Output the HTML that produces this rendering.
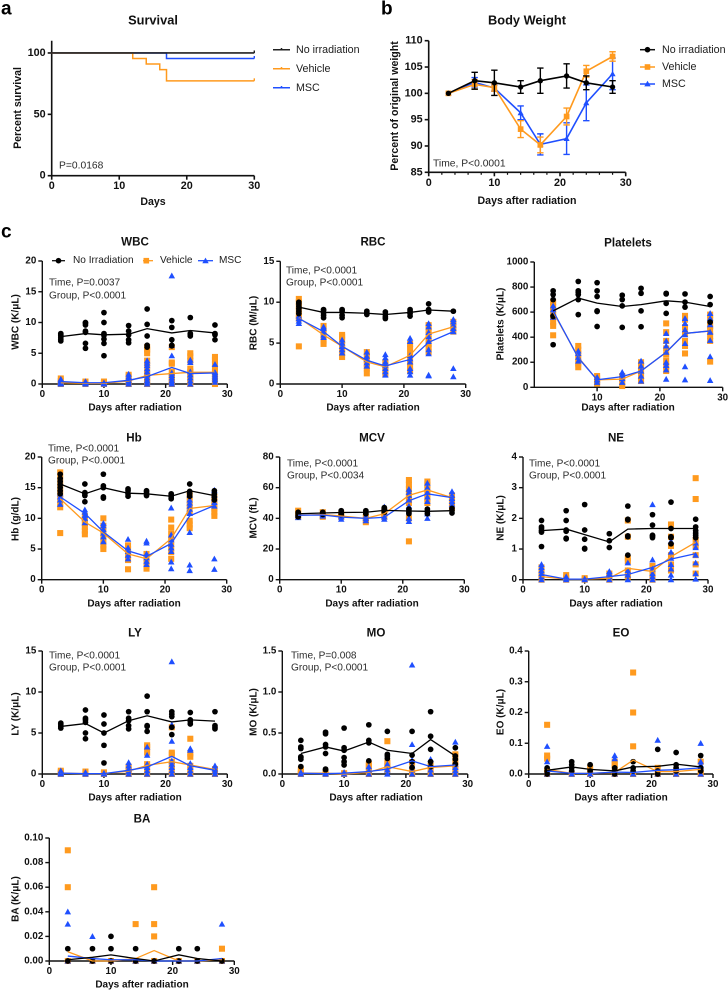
<!DOCTYPE html>
<html lang="en">
<head>
<meta charset="utf-8">
<title>Survival, body weight and blood counts after radiation</title>
<style>
html,body{margin:0;padding:0;background:#fff;width:728px;height:991px;overflow:hidden}
svg{display:block;filter:blur(0.2px)}
text{font-family:"Liberation Sans",sans-serif;fill:#111;dominant-baseline:central}
.title{font-weight:bold;font-size:11.6px;text-anchor:middle}
.title-lg{font-weight:bold;font-size:12.8px;text-anchor:middle}
.axis-title{font-weight:bold;font-size:10px;text-anchor:middle}
.axis-title-lg{font-weight:bold;font-size:10.6px;text-anchor:middle}
.note{font-size:10.1px;fill:#2b2b2b}
.legend{font-size:10.7px;fill:#1c1c1c}
.legend-sm{font-size:10.1px;fill:#1c1c1c}
.letter{font-weight:bold;font-size:19px;fill:#000}
.tick-label{font-weight:bold;font-size:9.8px}
.tick-label-lg{font-weight:bold;font-size:10.8px}
</style>
</head>
<body>
<svg id="figure" xmlns="http://www.w3.org/2000/svg" width="728" height="991" viewBox="0 0 728 991">
  <rect width="728" height="991" fill="#fff"/>

  <text class="letter" x="1" y="9">a</text>
  <text class="letter" x="381" y="9">b</text>
  <text class="letter" x="1" y="232">c</text>

  <text class="title-lg" x="153" y="20">Survival</text>
  <text class="axis-title-lg" x="153" y="202">Days</text>
  <text class="axis-title-lg" transform="translate(18 108) rotate(-90)">Percent survival</text>
  <text class="note" style="font-size:10.3px" x="59" y="166">P=0.0168</text>

  <g>
    <path d="M273 49.7H290M281.5 48V49.7" stroke="#222" stroke-width="1.5" fill="none"/>
    <text class="legend" x="296" y="50">No irradiation</text>
    <path d="M273 68.7H290M281.5 67V68.7" stroke="#ff9a1e" stroke-width="1.5" fill="none"/>
    <text class="legend" x="296" y="69">Vehicle</text>
    <path d="M273 87.7H290M281.5 86V87.7" stroke="#1f4fff" stroke-width="1.5" fill="none"/>
    <text class="legend" x="296" y="88">MSC</text>
  </g>

  <text class="title-lg" x="527" y="20">Body Weight</text>
  <text class="axis-title-lg" x="527" y="201">Days after radiation</text>
  <text class="axis-title-lg" transform="translate(395 106) rotate(-90)">Percent of original weight</text>
  <text class="note" style="font-size:10.3px" x="433" y="164">Time, P&lt;0.0001</text>

  <g>
    <line x1="640" x2="655" y1="49.7" y2="49.7" stroke="#111" stroke-width="1.5"/>
    <circle cx="647.5" cy="49.7" r="2.8" fill="#000"/>
    <text class="legend" x="662" y="50">No irradiation</text>
    <line x1="640" x2="655" y1="67" y2="67" stroke="#ff9a1e" stroke-width="1.5"/>
    <rect x="644.7" y="64.2" width="5.6" height="5.6" fill="#ff9a1e"/>
    <text class="legend" x="662" y="67">Vehicle</text>
    <line x1="640" x2="655" y1="84" y2="84" stroke="#1f4fff" stroke-width="1.5"/>
    <path d="M647.5 80.8l3.2 5.6h-6.4z" fill="#1f4fff"/>
    <text class="legend" x="662" y="84">MSC</text>
  </g>

  <g>
    <line x1="52" x2="65" y1="260.7" y2="260.7" stroke="#111" stroke-width="1.3"/>
    <circle cx="58.5" cy="260.7" r="2.8" fill="#000"/>
    <text class="legend-sm" x="73" y="260.7">No Irradiation</text>
    <line x1="143" x2="153" y1="260.7" y2="260.7" stroke="#ff9a1e" stroke-width="1.3"/>
    <rect x="143.5" y="257.9" width="5.6" height="5.6" fill="#ff9a1e"/>
    <text class="legend-sm" x="160" y="260.7">Vehicle</text>
    <line x1="198" x2="213" y1="260.7" y2="260.7" stroke="#1f4fff" stroke-width="1.3"/>
    <path d="M205.5 257.6l3.2 5.6h-6.4z" fill="#1f4fff"/>
    <text class="legend-sm" x="219" y="260.7">MSC</text>
  </g>

  <text class="title" x="135" y="242">WBC</text>
  <text class="axis-title" x="135" y="408">Days after radiation</text>
  <text class="axis-title" transform="translate(16 322) rotate(-90)">WBC (K/μL)</text>
  <text class="note" x="49" y="283">Time, P=0.0037</text>
  <text class="note" x="49" y="296">Group, P&lt;0.0001</text>

  <text class="title" x="373" y="242">RBC</text>
  <text class="axis-title" x="373" y="408">Days after radiation</text>
  <text class="axis-title" transform="translate(254 323) rotate(-90)">RBC (M/μL)</text>
  <text class="note" x="286" y="271">Time, P&lt;0.0001</text>
  <text class="note" x="286" y="283">Group, P&lt;0.0001</text>

  <text class="title" x="628" y="243">Platelets</text>
  <text class="axis-title" x="628" y="408">Days after radiation</text>
  <text class="axis-title" transform="translate(501 324) rotate(-90)">Platelets (K/μL)</text>

  <text class="title" x="134" y="438">Hb</text>
  <text class="axis-title" x="134" y="604">Days after radiation</text>
  <text class="axis-title" transform="translate(16 519) rotate(-90)">Hb (g/dL)</text>
  <text class="note" x="48" y="449">Time, P&lt;0.0001</text>
  <text class="note" x="48" y="461">Group, P&lt;0.0001</text>

  <text class="title" x="372" y="438">MCV</text>
  <text class="axis-title" x="372" y="604">Days after radiation</text>
  <text class="axis-title" transform="translate(254 518) rotate(-90)">MCV (fL)</text>
  <text class="note" x="287" y="464">Time, P&lt;0.0001</text>
  <text class="note" x="287" y="476">Group, P&lt;0.0034</text>

  <text class="title" x="616" y="438">NE</text>
  <text class="axis-title" x="616" y="604">Days after radiation</text>
  <text class="axis-title" transform="translate(501 518) rotate(-90)">NE (K/μL)</text>
  <text class="note" x="529" y="464">Time, P&lt;0.0001</text>
  <text class="note" x="529" y="476">Group, P&lt;0.0001</text>

  <text class="title" x="135" y="633">LY</text>
  <text class="axis-title" x="135" y="798">Days after radiation</text>
  <text class="axis-title" transform="translate(16 714) rotate(-90)">LY (K/μL)</text>
  <text class="note" x="49" y="656">Time, P&lt;0.0001</text>
  <text class="note" x="49" y="668">Group, P&lt;0.0001</text>

  <text class="title" x="376" y="633">MO</text>
  <text class="axis-title" x="376" y="798">Days after radiation</text>
  <text class="axis-title" transform="translate(254 712) rotate(-90)">MO (K/μL)</text>
  <text class="note" x="291" y="656">Time, P=0.008</text>
  <text class="note" x="291" y="668">Group, P&lt;0.0001</text>

  <text class="title" x="621" y="633">EO</text>
  <text class="axis-title" x="621" y="798">Days after radiation</text>
  <text class="axis-title" transform="translate(501 712) rotate(-90)">EO (K/μL)</text>

  <text class="title" x="142" y="819">BA</text>
  <text class="axis-title" x="142" y="985">Days after radiation</text>
  <text class="axis-title" transform="translate(16 899) rotate(-90)">BA (K/μL)</text>
</svg>

<script>
// ---------- shared values ----------
const days = [3, 7, 10, 14, 17, 21, 24, 28];
const xTicks = [0, 10, 20, 30];
const plateletXTicks = [10, 20, 30];

// ---------- survival ----------
const survivalYTicks = [0, 50, 100];
const survivalNoIrrDays = [0, 30];
const survivalNoIrrPct = [100, 100];
const survivalVehicleDays = [0, 12, 14, 16, 17, 30];
const survivalVehiclePct = [100, 95.5, 91, 86.4, 77.3, 77.3];
const survivalMscDays = [0, 17, 30];
const survivalMscPct = [100, 95.5, 95.5];

// ---------- body weight ----------
const weightYTicks = [85, 90, 95, 100, 105, 110];
const weightNoIrr = [100, 102.4, 102, 101.2, 102.4, 103.3, 102, 101.2];
const weightNoIrrErr = [0, 1.6, 2.4, 1.2, 2.4, 2.3, 1.3, 1.2];
const weightVehicle = [100, 101.7, 101.1, 93.2, 90.2, 95.6, 104.2, 107];
const weightVehicleErr = [0, 0.9, 0.7, 1.6, 1.5, 1.6, 1.1, 0.9];
const weightMsc = [100, 102.1, 101, 96.3, 90.3, 91.4, 98.2, 103.7];
const weightMscErr = [0, 0.9, 0.6, 1.3, 2, 3, 3.4, 3];

// ---------- WBC ----------
const wbcYTicks = [0, 5, 10, 15, 20];
const wbcNoIrrMean = [7.7, 8.2, 8, 8.1, 9, 8.3, 8.7, 8.3];
const wbcVehicleMean = [0.2, 0.1, 0.1, 0.5, 1.4, 1.7, 1.9, 1.9];
const wbcMscMean = [0.4, 0.2, 0.2, 0.6, 1.2, 2.7, 1.7, 1.8];
const wbcNoIrr = [[7,7.3,7.6,7.9,8.2,8],[5.8,6.6,8.4,8.6,9.6,9.9,10],[4.6,6.6,7.3,7.9,8.2,10,11.6],[6.7,7.2,8,8.6,9.5],[6,6.3,7.8,9.7,12.2],[6.2,6.3,7.2,9.2,10.3],[7.8,8,8.2,10.8],[7.2,8,8.2,9.6]];
const wbcVehicle = [[0,0.2,0.5,0.9],[0,0.1,0.3,0.4],[0,0.1,0.2,0.4],[0,0.3,0.6,1.2,1.5],[0,0.5,1,1.5,2,3,3.8,5,5.6,6],[0,0.5,1,1.5,2,3.3,3.5,6],[0,0.5,1,1.5,2,2.5,3.8,4.5,5],[0,0.5,1,1.5,2,2.5,3.3,3.9,4.4]];
const wbcMsc = [[0,0.1,0.2,0.4,0.6,0.8],[0,0.1,0.2,0.3,0.4],[0,0.1,0.2],[0,0.3,0.6,0.9,1.2,1.6],[0,0.3,0.6,1,1.5,2,2.5,3,3.4,3.8],[0,0.3,0.6,1,1.4,1.8,4.6,6.3,17.6],[0,0.5,1,1.5,2,3.5,3.9],[0.3,0.7,1,1.3,1.6,1.9,3.2]];

// ---------- RBC ----------
const rbcYTicks = [0, 5, 10, 15];
const rbcNoIrrMean = [9.4, 8.75, 8.75, 8.65, 8.5, 8.75, 9.05, 8.9];
const rbcVehicleMean = [8.1, 6, 4.6, 2.7, 2.1, 3.5, 6.1, 7];
const rbcMscMean = [8, 6.4, 4.6, 2.9, 2.2, 3, 5.1, 6.4];
const rbcNoIrr = [[8.6,8.9,9.2,9.5,9.8,10],[8.1,8.4,8.7,9,9.1],[8.1,8.4,8.8,9,9.1],[8.5,8.7,8.9],[8,8.2,8.5,8.8],[8.3,8.6,8.9,9.1],[8.8,9,9.1,9.8],[8.9]];
const rbcVehicle = [[4.6,8,8.4,9,9.5,10,10.4],[4.9,5.3,5.8,6.2,6.7,7.1],[3.3,3.8,4.3,4.8,5.3,5.8,6],[1.3,1.9,2.4,2.9,3.4,3.9],[1.2,1.6,2,2.4,2.7],[1.6,2.1,2.8,3.6,4.3,4.9],[3.9,4.4,4.9,5.5,6,6.5,7,7.2],[6.4,6.8,7.2,7.6]];
const rbcMsc = [[7.4,7.7,8,8.3],[5.7,6,6.4,6.8,7],[3.8,4.2,4.6,5,5.4],[2.2,2.6,3,3.4,3.9],[1.1,1.5,1.9,2.3,2.7,3.2,3.6],[1.1,1.5,1.9,2.7,3.1,3.5,5.2,5.6],[1,1.1,3.7,4.2,5.2,5.8,6.3,7,7.4],[0.9,1.9,6.4,6.8,7.2,7.6,7.9]];

// ---------- Platelets ----------
const pltYTicks = [0, 200, 400, 600, 800, 1000];
const pltNoIrrMean = [610, 712, 672, 645, 660, 690, 680, 645];
const pltVehicleMean = [600, 240, 60, 65, 130, 280, 430, 450];
const pltMscMean = [610, 235, 60, 85, 130, 280, 430, 450];
const pltNoIrr = [[340,565,570,700,740,770],[580,700,740,760,770,845],[485,605,610,725,770,835],[478,650,700,735],[483,610,750,790],[590,670,745,750],[640,680,745],[520,660,725]];
const pltVehicle = [[415,490,520,560,600,640,680],[160,190,230,270,300,330],[30,50,70,90],[10,40,70,90],[50,90,130,170,200],[130,170,210,260,310,370,440,510],[270,330,370,430,480,540,570],[205,370,410,450,490,540,580]];
const pltMsc = [[560,590,620,650],[210,240,270,290],[40,60,80],[40,70,100,120],[50,90,130,170,210],[65,140,175,200,280,330,370,430],[60,165,350,420,460,510,550],[55,245,375,440,500,550,590]];

// ---------- Hb ----------
const hbYTicks = [0, 5, 10, 15, 20];
const hbNoIrrMean = [15.6, 14, 15, 14.1, 14, 13.6, 14.5, 13.7];
const hbVehicleMean = [13.2, 9.4, 7.6, 4.2, 3.4, 6.7, 11.6, 12.1];
const hbMscMean = [13.5, 10.8, 7.8, 4.7, 3.8, 5.9, 10.4, 12.1];
const hbNoIrr = [[14,14.5,15,15.5,16,16.5,17.2],[12.7,13.7,14,14.2,15.6],[13.3,13.5,15,15.3,17.2],[13.6,14,14.5,14.8],[13.7,14,14.3,14.5],[13.2,13.5,13.8,14],[13.6,14,14.4,15.6],[13,13.5,14,14.5]];
const hbVehicle = [[7.6,11.8,12.5,13.5,14.5,15.5,16.5,17.5],[7.4,8,8.6,9.2,9.8,10.4],[5,5.6,6.4,7.2,8,8.8,10],[1.7,3.2,3.8,4.4,5,5.6],[1.8,2.4,3,3.6,4.2],[3.4,4.5,5.5,6.5,7.5,8.5,9.8],[8.4,9,9.6,11,12,13,14],[10.4,11,11.6,12.2,12.8,13.5]];
const hbMsc = [[12.3,13,13.5,14],[9.3,10,10.5,11,11.4],[6.2,7,7.6,8.2,8.8,9.2],[3.4,4,4.6,5.2,6.6],[2.5,3,3.6,4.2,6,6.3],[1.8,2.9,4.6,5.2,5.8,6.5,7.3,11.7],[1.5,2.4,7.7,10.8,11.5,12,12.5,13,13.8],[1.7,3.4,12,12.6,13.2,13.8,14.6]];

// ---------- MCV ----------
const mcvYTicks = [0, 20, 40, 60, 80];
const mcvNoIrrMean = [43, 43.5, 43.8, 44, 45.2, 44.8, 44.6, 45];
const mcvVehicleMean = [42, 42.5, 41.5, 40, 43, 55, 58.5, 53.5];
const mcvMscMean = [42, 42.2, 40.8, 40, 40.7, 51.5, 56, 53.5];
const mcvNoIrr = [[41,42,43,44],[42.5,43,44],[42,43,44,45],[43,44,45],[44,45,46,47],[43,44,45,46],[43,44.5,46],[43.5,45,46.5]];
const mcvVehicle = [[41,43,45],[41,42,44],[41,42,43],[37.5,39,41],[41,43,45],[25,40,50,53,56,59,62,65],[50,53,56,59,62,64],[47,50,52,54,55]];
const mcvMsc = [[40.5,42,43],[41.5,42.5],[39.5,41,42.5],[38.5,40,41.5],[39.5,41,44,47.5],[38,40,48,52,55,57,59],[40,43,46,51,54,57,60,63],[49,51,53,55,57.5]];

// ---------- NE ----------
const neYTicks = [0, 1, 2, 3, 4];
const neNoIrrMean = [1.6, 1.65, 1.47, 1.23, 1.65, 1.67, 1.67, 1.67];
const neVehicleMean = [0.1, 0.02, 0.02, 0.05, 0.37, 0.27, 0.75, 1.22];
const neMscMean = [0.17, 0.02, 0.02, 0.1, 0.17, 0.4, 0.67, 0.85];
const neNoIrr = [[1.08,1.55,1.6,1.67,1.72,1.93],[1.33,1.35,1.58,1.62,1.93,2.25],[1,1.02,1.32,1.62,2.45],[1.05,1.27,1.5],[0.8,1.4,1.43,1.95,1.97,2.4],[1.37,1.42,1.45,1.78,2.12],[1.17,1.37,1.4,1.67,2.53],[1.37,1.45,1.52,1.6,1.72,1.97]];
const neVehicle = [[0,0.1,0.2,0.3,0.4],[0,0.05,0.15],[0,0.05],[0,0.1,0.2],[0.1,0.3,0.6,0.7,1.4,1.93],[0,0.1,0.3,0.45],[0.3,0.5,0.8,1.1,1.4,1.8],[0.2,0.5,0.8,1.1,1.3,2.63,3.31]];
const neMsc = [[0,0.1,0.2,0.3,0.4,0.5],[0,0.05,0.1],[0,0.03],[0,0.1,0.2,0.27],[0,0.15,0.3,0.55],[0,0.1,0.2,0.35,0.65,2.45],[0,0.15,0.35,0.5,0.7,0.9,1.25],[0.02,0.2,0.55,0.8,1.05,1.2]];

// ---------- LY ----------
const lyYTicks = [0, 5, 10, 15];
const lyNoIrrMean = [5.8, 6.15, 5, 6.5, 7.1, 6.35, 6.6, 6.45];
const lyVehicleMean = [0.1, 0.05, 0.05, 0.35, 1.05, 1.5, 1.1, 0.55];
const lyMscMean = [0.1, 0.05, 0.05, 0.45, 0.85, 2.15, 1, 0.45];
const lyNoIrr = [[5.6,5.8,6,6.2],[4.3,5,6.3,6.6,6.8,7.8],[1.35,3.5,5,6.1,7.2],[5.5,5.9,6.5,6.8,7.6],[5.2,5.8,5.9,7.6,9.5],[4.8,5.7,7,7.3,7.6],[6.1,6.4,6.6,7.5],[5.5,5.7,5.9,7.6]];
const lyVehicle = [[0,0.2,0.4],[0,0.15,0.3],[0,0.1,0.2],[0,0.3,0.6,0.9],[0,0.6,1.2,2.6,3.3,3.5],[0,0.5,1,1.5,2.4,2.6,5.7],[0,0.5,1,2.1,2.5,4.3],[0,0.3,0.6]];
const lyMsc = [[0,0.1,0.2,0.4],[0,0.1,0.2],[0,0.1],[0,0.3,0.6,1,1.4],[0,0.4,0.8,1.2,2.3,3.3],[0,0.4,0.8,1.2,1.6,4,6,13.7],[0,0.4,0.8,1.3,2.9,3.1],[0,0.3,0.6,1]];

// ---------- MO ----------
const moYTicks = [0, 0.5, 1, 1.5];
const moNoIrrMean = [0.25, 0.33, 0.28, 0.39, 0.29, 0.25, 0.42, 0.22];
const moVehicleMean = [0.01, 0.01, 0, 0.02, 0.09, 0.03, 0.08, 0.1];
const moMscMean = [0.01, 0.005, 0.01, 0.03, 0.06, 0.16, 0.09, 0.11];
const moNoIrr = [[0.09,0.18,0.2,0.21,0.31,0.33,0.41],[0.05,0.06,0.25,0.33,0.36,0.49,0.51],[0.11,0.15,0.2,0.29,0.32,0.56],[0.16,0.38,0.41,0.6],[0.19,0.22,0.24,0.52],[0.08,0.15,0.23,0.52],[0.09,0.15,0.3,0.46,0.76],[0.12,0.18,0.22,0.32]];
const moVehicle = [[0,0.02,0.05],[0,0.01],[0,0.01],[0,0.05,0.1,0.12],[0.05,0.1,0.14,0.4],[0,0.03,0.14],[0,0.05,0.1],[0,0.05,0.1,0.15,0.22,0.24]];
const moMsc = [[0,0.02],[0,0.01],[0,0.02],[0,0.04,0.09],[0,0.05,0.12],[0,0.05,0.1,0.17,0.36,1.33],[0,0.05,0.1,0.18],[0,0.04,0.08,0.12,0.39]];

// ---------- EO ----------
const eoYTicks = [0, 0.1, 0.2, 0.3, 0.4];
const eoNoIrrMean = [0.012, 0.023, 0.015, 0.01, 0.023, 0.025, 0.032, 0.023];
const eoVehicleMean = [0.015, 0.002, 0.002, 0.005, 0.045, 0.008, 0.008, 0.015];
const eoMscMean = [0.01, 0.002, 0.002, 0.006, 0.005, 0.012, 0.014, 0.02];
const eoNoIrr = [[0,0.01,0.02],[0.01,0.02,0.03,0.04],[0.01,0.03],[0,0.01,0.02],[0.01,0.02,0.04],[0,0.01,0.08],[0.01,0.02,0.03,0.07],[0.01,0.02,0.06]];
const eoVehicle = [[0,0.01,0.05,0.06,0.16],[0],[0,0.02],[0,0.02,0.03,0.04],[0,0.09,0.2,0.33],[0,0.02],[0,0.01],[0,0.01,0.04]];
const eoMsc = [[0,0.01,0.04,0.09],[0],[0],[0,0.05,0.06],[0],[0,0.11],[0,0.01],[0,0.02,0.03,0.04,0.1]];

// ---------- BA ----------
const baYTicks = [0, 0.02, 0.04, 0.06, 0.08, 0.1];
const baNoIrrMean = [0.001, 0.003, 0.005, 0.002, 0, 0.005, 0.002, 0];
const baVehicleMean = [0.0075, 0, 0, 0.002, 0.0085, 0, 0, 0.001];
const baMscMean = [0.004, 0.002, 0.001, 0.001, 0, 0, 0, 0.002];
const baNoIrr = [[0,0.01],[0,0.01],[0,0.01,0.02],[0,0.01],[0],[0,0.01],[0,0.01],[0]];
const baVehicle = [[0,0.06,0.09],[0],[0],[0,0.03],[0,0.02,0.03,0.06],[0],[0],[0,0.01]];
const baMsc = [[0,0.03,0.04],[0,0.02],[0],[0],[0],[0],[0],[0,0.03]];

// ---------- drawing ----------
const NS = 'http://www.w3.org/2000/svg';
const svg = document.getElementById('figure');
const COLORS = { noIrr: '#000000', vehicle: '#ff9a1e', msc: '#1f4fff' };

function shape(tag, attrs, parent) {
  const el = document.createElementNS(NS, tag);
  for (const k in attrs) el.setAttribute(k, attrs[k]);
  parent.appendChild(el);
  return el;
}
function scales(f) {
  return {
    x: v => f.left + (v / f.xMax) * (f.right - f.left),
    y: v => f.bottom - ((v - f.yMin) / (f.yMax - f.yMin)) * (f.bottom - f.top)
  };
}
function fmt(v, digits) { return digits ? v.toFixed(digits) : String(v); }

function drawAxes(name, f, xt, yt, digits, lg) {
  const s = scales(f);
  const g = shape('g', {}, svg);
  
  
  const sw = lg ? 1.6 : 1.4;
  const axisY = shape('line', { x1: f.left, x2: f.left, y1: f.bottom + sw / 2, y2: f.top, stroke: '#111', 'stroke-width': sw }, g);
  
  
  const axisX = shape('line', { x1: f.left, x2: f.right, y1: f.bottom, y2: f.bottom, stroke: '#111', 'stroke-width': sw }, g);
  
  
  yt.forEach(v => {
    const tick = shape('line', { x1: f.left - 4, x2: f.left, y1: s.y(v), y2: s.y(v), stroke: '#111', 'stroke-width': sw }, g);
    
    
    const label = shape('text', { x: f.left - 6, y: s.y(v), 'text-anchor': 'end', class: lg ? 'tick-label-lg' : 'tick-label' }, g);
    label.textContent = fmt(v, digits);
    
    
  });
  xt.forEach(v => {
    const tick = shape('line', { x1: s.x(v), x2: s.x(v), y1: f.bottom, y2: f.bottom + 4, stroke: '#111', 'stroke-width': sw }, g);
    
    
    const label = shape('text', { x: s.x(v), y: f.bottom + 10.5, 'text-anchor': 'middle', class: lg ? 'tick-label-lg' : 'tick-label' }, g);
    label.textContent = String(v);
    
    
  });
  return s;
}

function drawMarker(kind, px, py, parent, size) {
  const k = size || 1;
  let el;
  if (kind === 'noIrr') {
    el = shape('circle', { cx: px, cy: py, r: 2.55 * k, fill: COLORS.noIrr }, parent);
  } else if (kind === 'vehicle') {
    el = shape('rect', { x: px - 2.7 * k, y: py - 2.7 * k, width: 5.4 * k, height: 5.4 * k, fill: COLORS.vehicle }, parent);
  } else {
    el = shape('path', { d: 'M' + px + ' ' + (py - 2.9 * k) + 'l' + 2.9 * k + ' ' + 5.2 * k + 'h' + (-5.8 * k) + 'z', fill: COLORS.msc }, parent);
  }
  return el;
}
function polyline(values, xs, s, kind, parent, width) {
  const pts = values.map((v, i) => s.x(xs[i]).toFixed(2) + ',' + s.y(v).toFixed(2)).join(' ');
  return shape('polyline', { points: pts, fill: 'none', stroke: COLORS[kind], 'stroke-width': width, 'stroke-linejoin': 'miter' }, parent);
}

function drawScatter(name, f, yt, digits, xt, series, means) {
  const s = drawAxes(name, f, xt, yt, digits, false);
  const g = shape('g', {}, svg);
  
  
  ['vehicle', 'msc', 'noIrr'].forEach(kind => {
    series[kind].forEach((vals, i) => {
      vals.forEach(v => {
        const m = drawMarker(kind, s.x(days[i]), s.y(v), g, 1.12);
        
        
      });
    });
  });
  ['vehicle', 'msc', 'noIrr'].forEach(kind => {
    const l = polyline(means[kind], days, s, kind, g, 1.3);
    
    
  });
}

function stepPath(xs, ys, s) {
  let d = 'M' + s.x(xs[0]) + ' ' + s.y(ys[0]);
  for (let i = 1; i < xs.length; i++) {
    d += 'H' + s.x(xs[i]) + 'V' + s.y(ys[i]);
  }
  return d;
}

// Survival panel
(function () {
  const f = { left: 51.7, right: 254.3, bottom: 175.7, top: 40.7, xMax: 30, yMin: 0, yMax: 110 };
  const s = drawAxes('survival', f, xTicks, survivalYTicks, 0, true);
  const g = shape('g', {}, svg);
  
  
  const mscLine = shape('path', { d: stepPath(survivalMscDays, survivalMscPct, s), fill: 'none', stroke: COLORS.msc, 'stroke-width': 1.5 }, g);
  
  
  const vehLine = shape('path', { d: stepPath(survivalVehicleDays, survivalVehiclePct, s), fill: 'none', stroke: COLORS.vehicle, 'stroke-width': 1.5 }, g);
  
  
  const noLine = shape('path', { d: stepPath(survivalNoIrrDays, survivalNoIrrPct, s), fill: 'none', stroke: '#222', 'stroke-width': 1.6 }, g);
  
  
  const ends = [[survivalNoIrrPct, '#222'], [survivalVehiclePct, COLORS.vehicle], [survivalMscPct, COLORS.msc]];
  ends.forEach(e => {
    const yEnd = s.y(e[0][e[0].length - 1]);
    const c = shape('line', { x1: f.right, x2: f.right, y1: yEnd - 2.5, y2: yEnd, stroke: e[1], 'stroke-width': 1.4 }, g);
    
    
  });
})();

// Body weight panel
(function () {
  const f = { left: 428.7, right: 625.7, bottom: 172.3, top: 40.7, xMax: 30, yMin: 85, yMax: 110 };
  const s = drawAxes('body-weight', f, xTicks, weightYTicks, 0, true);
  for (let d = 2; d < 30; d += 2) {
    if (d % 10 === 0) continue;
    const minor = shape('line', { x1: s.x(d), x2: s.x(d), y1: f.bottom, y2: f.bottom + 2.5, stroke: '#111', 'stroke-width': 1.2 }, svg);
    
    
  }
  const g = shape('g', {}, svg);
  
  
  const groups = [['msc', weightMsc, weightMscErr], ['vehicle', weightVehicle, weightVehicleErr], ['noIrr', weightNoIrr, weightNoIrrErr]];
  groups.forEach(grp => {
    const kind = grp[0], vals = grp[1], errs = grp[2], col = COLORS[kind];
    const l = polyline(vals, days, s, kind, g, 1.6);
    
    
    vals.forEach((v, i) => {
      const px = s.x(days[i]);
      if (errs[i] > 0) {
        const hi = s.y(v + errs[i]), lo = s.y(v - errs[i]);
        const bar = shape('path', { d: 'M' + px + ' ' + hi + 'V' + lo + 'M' + (px - 3.2) + ' ' + hi + 'H' + (px + 3.2) + 'M' + (px - 3.2) + ' ' + lo + 'H' + (px + 3.2), fill: 'none', stroke: col, 'stroke-width': 1.4 }, g);
        
        
      }
      const m = drawMarker(kind, px, s.y(v), g, 1.05);
      
      
    });
  });
})();

// Blood count panels
drawScatter('wbc', { left: 42.3, right: 227.3, bottom: 384, top: 261, xMax: 30, yMin: 0, yMax: 20 }, wbcYTicks, 0, xTicks,
  { noIrr: wbcNoIrr, vehicle: wbcVehicle, msc: wbcMsc }, { noIrr: wbcNoIrrMean, vehicle: wbcVehicleMean, msc: wbcMscMean });
drawScatter('rbc', { left: 280.3, right: 465.7, bottom: 384, top: 261.3, xMax: 30, yMin: 0, yMax: 15 }, rbcYTicks, 0, xTicks,
  { noIrr: rbcNoIrr, vehicle: rbcVehicle, msc: rbcMsc }, { noIrr: rbcNoIrrMean, vehicle: rbcVehicleMean, msc: rbcMscMean });
drawScatter('platelets', { left: 534.3, right: 722.7, bottom: 387.3, top: 262, xMax: 30, yMin: 0, yMax: 1000 }, pltYTicks, 0, plateletXTicks,
  { noIrr: pltNoIrr, vehicle: pltVehicle, msc: pltMsc }, { noIrr: pltNoIrrMean, vehicle: pltVehicleMean, msc: pltMscMean });
drawScatter('hb', { left: 41.7, right: 226.7, bottom: 579.7, top: 457, xMax: 30, yMin: 0, yMax: 20 }, hbYTicks, 0, xTicks,
  { noIrr: hbNoIrr, vehicle: hbVehicle, msc: hbMsc }, { noIrr: hbNoIrrMean, vehicle: hbVehicleMean, msc: hbMscMean });
drawScatter('mcv', { left: 279.7, right: 464.3, bottom: 579.7, top: 457, xMax: 30, yMin: 0, yMax: 80 }, mcvYTicks, 0, xTicks,
  { noIrr: mcvNoIrr, vehicle: mcvVehicle, msc: mcvMsc }, { noIrr: mcvNoIrrMean, vehicle: mcvVehicleMean, msc: mcvMscMean });
drawScatter('ne', { left: 523, right: 708, bottom: 579.7, top: 457, xMax: 30, yMin: 0, yMax: 4 }, neYTicks, 0, xTicks,
  { noIrr: neNoIrr, vehicle: neVehicle, msc: neMsc }, { noIrr: neNoIrrMean, vehicle: neVehicleMean, msc: neMscMean });
drawScatter('ly', { left: 42.3, right: 227.3, bottom: 774, top: 651, xMax: 30, yMin: 0, yMax: 15 }, lyYTicks, 0, xTicks,
  { noIrr: lyNoIrr, vehicle: lyVehicle, msc: lyMsc }, { noIrr: lyNoIrrMean, vehicle: lyVehicleMean, msc: lyMscMean });
drawScatter('mo', { left: 282.3, right: 467.7, bottom: 774, top: 651, xMax: 30, yMin: 0, yMax: 1.5 }, moYTicks, 1, xTicks,
  { noIrr: moNoIrr, vehicle: moVehicle, msc: moMsc }, { noIrr: moNoIrrMean, vehicle: moVehicleMean, msc: moMscMean });
drawScatter('eo', { left: 528.7, right: 713, bottom: 774, top: 651, xMax: 30, yMin: 0, yMax: 0.4 }, eoYTicks, 1, xTicks,
  { noIrr: eoNoIrr, vehicle: eoVehicle, msc: eoMsc }, { noIrr: eoNoIrrMean, vehicle: eoVehicleMean, msc: eoMscMean });
drawScatter('ba', { left: 49.3, right: 234.3, bottom: 961, top: 838, xMax: 30, yMin: 0, yMax: 0.1 }, baYTicks, 2, xTicks,
  { noIrr: baNoIrr, vehicle: baVehicle, msc: baMsc }, { noIrr: baNoIrrMean, vehicle: baVehicleMean, msc: baMscMean });
</script>
</body>
</html>
